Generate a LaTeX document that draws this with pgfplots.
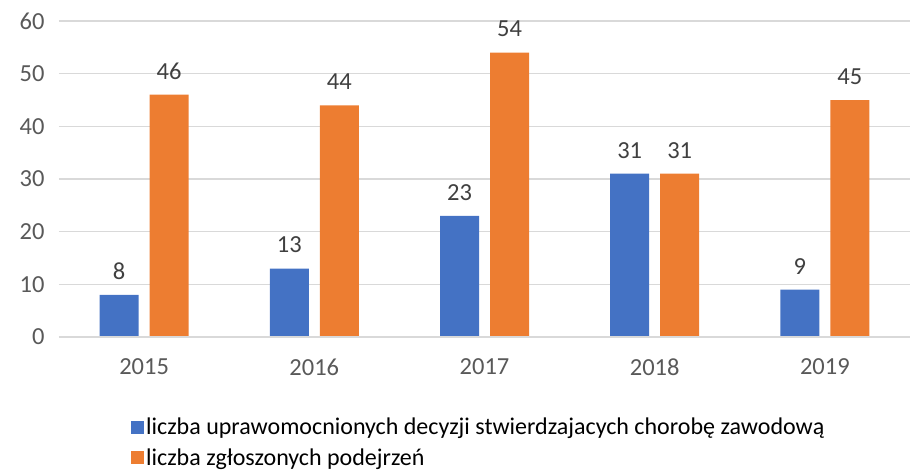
\documentclass[border=0pt]{standalone}
\usepackage{pgfplots}
\pgfplotsset{compat=1.18}
\usepackage{fontspec}
\setmainfont{Carlito}
\definecolor{cblue}{HTML}{4472C4}
\definecolor{corange}{HTML}{ED7D31}
\definecolor{gridc}{HTML}{D9D9D9}
\definecolor{tickc}{HTML}{595959}
\definecolor{labc}{HTML}{404040}
\begin{document}
\begin{tikzpicture}
\useasboundingbox (-59pt,-137pt) rectangle (855pt,337pt);
\begin{axis}[
  at={(0pt,0pt)}, anchor=south west,
  scale only axis, width=851pt, height=316pt,
  xmin=-0.5, xmax=4.5, ymin=0, ymax=60,
  xtick={0,1,2,3,4}, xticklabels={2015,2016,2017,2018,2019},
  ytick={0,10,20,30,40,50,60},
  axis line style={draw=none},
  axis x line*=bottom, axis y line*=left,
  major tick length=0pt,
  ymajorgrids, grid style={gridc, line width=1.3pt},
  /pgf/number format/assume math mode=true,
  tick label style={font=\fontsize{24.5}{29}\selectfont, text=tickc},
  xticklabel style={yshift=-18pt},
  yticklabel style={xshift=-11pt},
  ybar, bar width=39pt,
  nodes near coords,
  nodes near coords style={font=\fontsize{24.5}{29}\selectfont, text=labc, yshift=12pt},
  legend style={at={(0.081,0)}, anchor=north west, yshift=-77pt, draw=none,
    font=\fontsize{24}{29}\selectfont, row sep=8pt, cells={anchor=west},
    /tikz/every even column/.append style={column sep=0pt}},
  legend cell align=left,
  clip=false,
]
\addplot[fill=cblue, draw=none, bar shift=-25pt,
  legend image code/.code={\fill[cblue] (0pt,-6.5pt) rectangle (13pt,6.5pt);}]
  coordinates {(0,8) (1,13) (2,23) (3,31) (4,9)};
\addlegendentry{liczba uprawomocnionych decyzji stwierdzajacych chorobę zawodową}
\addplot[fill=corange, draw=none, bar shift=25pt,
  legend image code/.code={\fill[corange] (0pt,-6.5pt) rectangle (13pt,6.5pt);}]
  coordinates {(0,46) (1,44) (2,54) (3,31) (4,45)};
\addlegendentry{liczba zgłoszonych podejrzeń}
\draw[gridc, line width=1.3pt] (axis cs:-0.5,0) -- (axis cs:4.5,0);
\end{axis}
\end{tikzpicture}
\end{document}
